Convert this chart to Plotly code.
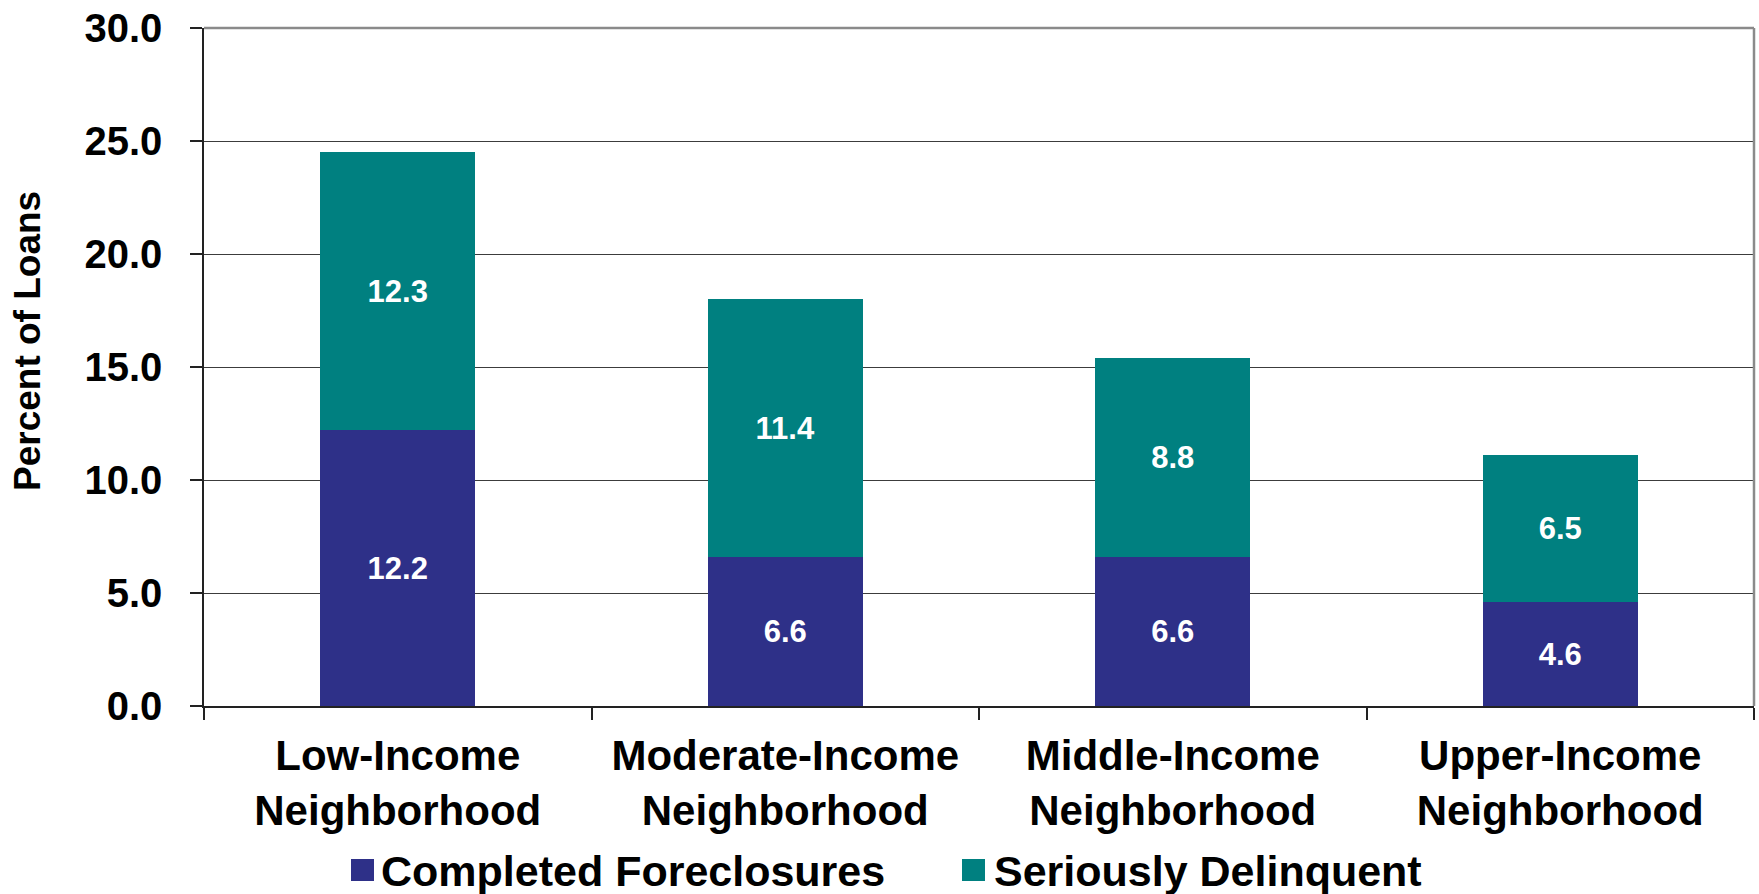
import plotly.graph_objects as go

# Loan outcomes by neighborhood income level (percent of loans)
categories = [
    "Low-Income<br>Neighborhood",
    "Moderate-Income<br>Neighborhood",
    "Middle-Income<br>Neighborhood",
    "Upper-Income<br>Neighborhood",
]
completed_foreclosures = [12.2, 6.6, 6.6, 4.6]
seriously_delinquent = [12.3, 11.4, 8.8, 6.5]

series_names = ["Completed Foreclosures", "Seriously Delinquent"]
series_colors = ["#2E3088", "#008080"]

FONT = "Liberation Sans, Arial, sans-serif"

# Plot area geometry (pixels)
W, H = 1759, 894
M_L, M_R, M_T, M_B = 204, 5, 28, 188
PW = W - M_L - M_R
PH = H - M_T - M_B


def px_x(x):
    return (x - M_L) / PW


def px_y(y):
    return (H - M_B - y) / PH


fig = go.Figure()
for name, vals, color in zip(series_names,
                             [completed_foreclosures, seriously_delinquent],
                             series_colors):
    fig.add_trace(go.Bar(
        x=categories,
        y=vals,
        name=name,
        marker=dict(color=color, line=dict(width=0)),
        text=[f"{v:.1f}" for v in vals],
        textposition="inside",
        insidetextanchor="middle",
        constraintext="none",
        textangle=0,
        textfont=dict(family=FONT, size=31, color="white", weight="bold"),
        showlegend=False,
    ))

fig.update_layout(
    width=W,
    height=H,
    margin=dict(l=M_L, r=M_R, t=M_T, b=M_B, pad=0),
    barmode="stack",
    bargap=0.6,
    plot_bgcolor="white",
    paper_bgcolor="white",
    font=dict(family=FONT, color="black"),
    xaxis=dict(
        type="category",
        tickson="boundaries",
        ticks="outside",
        ticklen=12,
        tickwidth=1.5,
        tickcolor="#222222",
        showline=True,
        linecolor="#222222",
        linewidth=1.5,
        showgrid=False,
        tickfont=dict(family=FONT, size=42, color="black", weight="bold"),
        ticklabelstandoff=12,
    ),
    yaxis=dict(
        range=[0, 30],
        dtick=5,
        tick0=0,
        tickformat=".1f",
        ticks="outside",
        ticklen=12,
        tickwidth=1.5,
        tickcolor="#222222",
        showline=True,
        linecolor="#222222",
        linewidth=1.5,
        showgrid=True,
        gridcolor="#3c3c3c",
        gridwidth=1,
        zeroline=False,
        tickfont=dict(family=FONT, size=40, color="black", weight="bold"),
        ticklabelstandoff=20,
    ),
)

# Gray frame along the top and right of the plot area
fig.add_shape(type="line", xref="paper", yref="paper", x0=0, x1=1, y0=1, y1=1,
              line=dict(color="#8a8a8a", width=2.5), layer="above")
fig.add_shape(type="line", xref="paper", yref="paper", x0=1, x1=1, y0=0, y1=1,
              line=dict(color="#8a8a8a", width=2.5), layer="above")

# Y-axis title
fig.add_annotation(
    text="Percent of Loans", xref="paper", yref="paper",
    x=px_x(27), y=px_y(341), textangle=-90, showarrow=False,
    xanchor="center", yanchor="middle",
    font=dict(family=FONT, size=37, color="black", weight="bold"),
)

# Legend: colored squares with labels below the chart
legend_items = [
    (series_names[0], series_colors[0], 351, 374, 379),
    (series_names[1], series_colors[1], 962, 985, 992),
]
for name, color, sx0, sx1, tx in legend_items:
    fig.add_shape(type="rect", xref="paper", yref="paper",
                  x0=px_x(sx0), x1=px_x(sx1), y0=px_y(881), y1=px_y(859),
                  fillcolor=color, line=dict(width=0))
    fig.add_annotation(
        text=name, xref="paper", yref="paper",
        x=px_x(tx), y=px_y(871), showarrow=False,
        xanchor="left", yanchor="middle",
        font=dict(family=FONT, size=43, color="black", weight="bold"),
    )

fig.write_html("out.html")
